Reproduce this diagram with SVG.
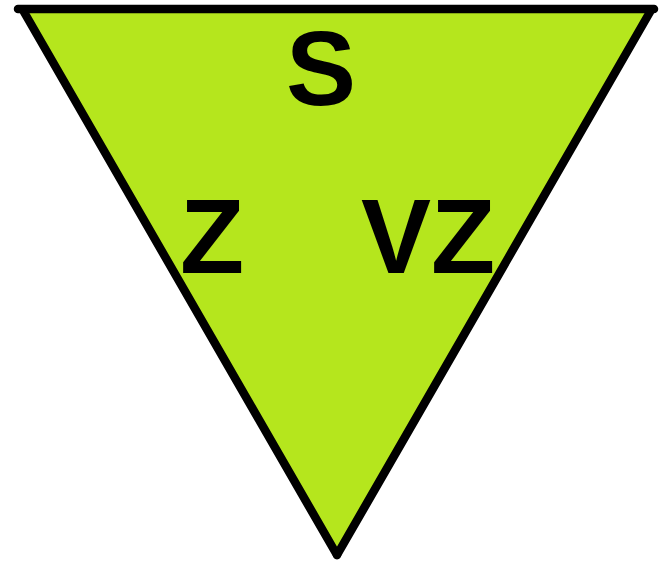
<svg xmlns="http://www.w3.org/2000/svg" width="669" height="568" viewBox="0 0 669 568">
<style>
.edge{stroke:#000;stroke-width:8.5;stroke-linecap:round;fill:none}
.lbl{font-family:"Liberation Sans",Arial,sans-serif;font-weight:bold;font-size:105px;fill:#000;text-anchor:middle}
</style>
<rect width="669" height="568" fill="#fff"/>
<g id="triangle">
<polygon points="20,9 653,9 337,555" fill="#B5E61D"/>
<line class="edge" x1="18" y1="9" x2="654" y2="9"/>
<line class="edge" x1="24" y1="12" x2="337" y2="555"/>
<line class="edge" x1="650" y1="12" x2="337" y2="555"/>
</g>
<g id="label-S"><text class="lbl" x="321" y="105">S</text></g>
<g id="label-Z"><text class="lbl" x="212" y="273">Z</text></g>
<g id="label-VZ"><text class="lbl" x="428" y="273">VZ</text></g>
</svg>
